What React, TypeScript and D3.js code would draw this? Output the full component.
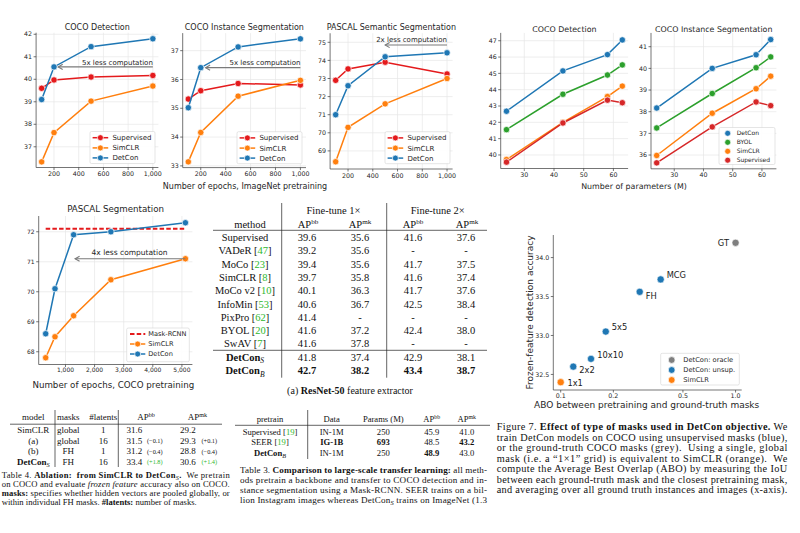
import React from "react";
import * as d3 from "d3";

const SANS = "'DejaVu Sans', sans-serif";
const SERIF = "'Liberation Serif', 'Times New Roman', serif";

const COL = {
  sup: "#e41a1c",
  sim: "#ff7f0e",
  det: "#1f77b4",
  byol: "#2ca02c",
  supTab: "#d62728",
  grey: "#7f7f7f",
  ref: "#2db82d",
  txt: "#262626",
};

// ---------------- data: ImageNet pretraining epochs ----------------
const inEpochs = [100, 200, 500, 1000];
const detSupervised = [39.6, 39.97, 40.1, 40.17];
const detSimCLR = [36.33, 37.63, 39.03, 39.7];
const detDetCon = [39.1, 40.55, 41.45, 41.8];
const insSupervised = [35.32, 35.61, 35.86, 35.81];
const insSimCLR = [33.14, 34.16, 35.42, 35.97];
const insDetCon = [35.02, 36.41, 37.13, 37.41];
const semSupervised = [72.9, 73.53, 73.9, 73.25];
const semSimCLR = [68.4, 70.3, 71.6, 73.0];
const semDetCon = [71.0, 72.6, 74.2, 74.42];

// ---------------- data: model size ----------------
const params = [24, 43, 58, 63];
const pDetDetCon = [42.68, 45.15, 46.15, 47.05];
const pDetBYOL = [41.55, 43.72, 44.9, 45.52];
const pDetSimCLR = [39.72, 42.0, 43.58, 44.22];
const pDetSupervised = [39.56, 41.96, 43.36, 43.2];
const pInsDetCon = [38.17, 40.0, 40.63, 41.33];
const pInsBYOL = [37.25, 38.84, 40.03, 40.53];
const pInsSimCLR = [35.98, 37.93, 39.06, 39.64];
const pInsSupervised = [35.64, 37.3, 38.45, 38.28];

// ---------------- data: COCO pretraining ----------------
const cocoEpochs = [320, 640, 1280, 2560, 5120];
const pascalSimCLR = [67.8, 68.5, 69.2, 70.4, 71.1];
const pascalDetCon = [68.6, 70.1, 71.9, 72.0, 72.3];
const maskRCNN = 72.1;

// ---------------- data: Figure 7 ----------------
const aboNames = ["GT", "MCG", "FH", "5x5", "10x10", "2x2", "1x1"];
const aboX = [1.0, 0.373, 0.283, 0.181, 0.149, 0.118, 0.1];
const aboY = [34.19, 33.72, 33.56, 33.05, 32.7, 32.6, 32.4];
const aboGroup = [0, 1, 1, 1, 1, 1, 2];
const aboGroupNames = ["DetCon: oracle", "DetCon: unsup.", "SimCLR"];
// label placement (style): dx, dy in px, anchor
const aboLabelPos: [number, number, string][] = [
  [-6.5, 3, "end"], [6, -1.3, "start"], [6, 7.3, "start"], [6, -1.7, "start"],
  [6.3, -1, "start"], [6, 6.6, "start"], [6.7, 3.4, "start"],
];

// ---------------- data: table (a) ----------------
const methods = ["Supervised", "VADeR", "MoCo", "SimCLR", "MoCo v2", "InfoMin", "PixPro", "BYOL", "SwAV"];
const methodRefs = ["", "47", "23", "8", "10", "53", "62", "20", "7"];
const ft1bb = ["39.6", "39.2", "39.4", "39.7", "40.1", "40.6", "41.4", "41.6", "41.6"];
const ft1mk = ["35.6", "35.6", "35.6", "35.8", "36.3", "36.7", "-", "37.2", "37.8"];
const ft2bb = ["41.6", "-", "41.7", "41.6", "41.7", "42.5", "-", "42.4", "-"];
const ft2mk = ["37.6", "-", "37.5", "37.4", "37.6", "38.4", "-", "38.0", "-"];
const detconSubs = ["S", "B"];
const detconFt1bb = ["41.8", "42.7"];
const detconFt1mk = ["37.4", "38.2"];
const detconFt2bb = ["42.9", "43.4"];
const detconFt2mk = ["38.1", "38.7"];

// ---------------- data: table 4 ----------------
const abModels = ["SimCLR", "(a)", "(b)", "DetCon"];
const abMasks = ["global", "global", "FH", "FH"];
const abLatents = ["1", "16", "1", "16"];
const abBB = ["31.6", "31.5", "31.2", "33.4"];
const abBBd = ["", "(\u22120.1)", "(\u22120.4)", "(+1.8)"];
const abMK = ["29.2", "29.3", "28.8", "30.6"];
const abMKd = ["", "(+0.1)", "(\u22120.4)", "(+1.4)"];

// ---------------- data: table 3 ----------------
const lsPretrain = ["Supervised", "SEER", "DetCon"];
const lsRefs = ["19", "19", ""];
const lsData = ["IN-1M", "IG-1B", "IN-1M"];
const lsParams = ["250", "693", "250"];
const lsBB = ["45.9", "48.5", "48.9"];
const lsMK = ["41.0", "43.2", "43.0"];

type Seg = { t: string; b?: boolean; i?: boolean; sub?: boolean; c?: string };

const fig7Caption: Seg[][] = [
  [{ t: "Figure 7. " }, { t: "Effect of type of masks used in DetCon objective.", b: true }, { t: " We" }],
  [{ t: "train DetCon models on COCO using unsupervised masks (blue)," }],
  [{ t: "or the ground-truth COCO masks (grey).  Using a single, global" }],
  [{ t: "mask (i.e. a \u201c1\u00d71\u201d grid) is equivalent to SimCLR (orange).  We" }],
  [{ t: "compute the Average Best Overlap (ABO) by measuring the IoU" }],
  [{ t: "between each ground-truth mask and the closest pretraining mask," }],
  [{ t: "and averaging over all ground truth instances and images (x-axis)." }],
];
const tab3Caption: Seg[][] = [
  [{ t: "Table 3. " }, { t: "Comparison to large-scale transfer learning:", b: true }, { t: " all meth-" }],
  [{ t: "ods pretrain a backbone and transfer to COCO detection and in-" }],
  [{ t: "stance segmentation using a Mask-RCNN. SEER trains on a bil-" }],
  [{ t: "lion Instagram images whereas DetCon" }, { t: "S", sub: true, i: true }, { t: " trains on ImageNet (1.3" }],
];
const tab4Caption: Seg[][] = [
  [{ t: "Table 4. " }, { t: "Ablation:  from SimCLR to DetCon", b: true }, { t: "S", sub: true, i: true }, { t: ".", b: true }, { t: "  We pretrain" }],
  [{ t: "on COCO and evaluate " }, { t: "frozen feature", i: true }, { t: " accuracy also on COCO." }],
  [{ t: "masks:", b: true }, { t: " specifies whether hidden vectors are pooled globally, or" }],
  [{ t: "within individual FH masks. " }, { t: "#latents:", b: true }, { t: " number of masks." }],
];

// ---------------- chart machinery ----------------
type Series = { name: string; color: string; xs: number[]; ys: number[] };
type Ann = { text: string; from: number; to: number; y: number; tx: number; ty: number; anchor: string; fs: number };
type LegendItem = { name: string; color: string; kind: string };
type LegendCfg = { x: number; y: number; w: number; h: number; rows: number[]; items: LegendItem[]; fs: number; hx0: number; hx1: number; tx: number; r: number };
type ChartCfg = {
  xr: [number, number]; yr: [number, number]; xd: [number, number]; yd: [number, number];
  xTicks: number[]; yTicks: number[]; xFmt: (v: number) => string; yFmt: (v: number) => string;
  log?: boolean; grid?: boolean; tickFs: number; xTickDy: number;
  title?: string; titleFs?: number; titleY?: number;
  series?: Series[]; r?: number;
  refLine?: { y: number; x0: number; x1: number; color: string };
  ann?: Ann; legend?: LegendCfg;
};

const fmtComma = d3.format(",");
const fmtInt = d3.format("d");
const fmt1 = d3.format(".1f");

function Legend({ l }: { l: LegendCfg }) {
  return (
    <g>
      <rect x={l.x} y={l.y} width={l.w} height={l.h} rx={1.5} fill="white" fillOpacity={0.9} stroke="#d4d4d4" strokeWidth={0.6} />
      {l.items.map((it, i) => {
        const cy = l.rows[i];
        const mx = (l.x + l.hx0 + l.x + l.hx1) / 2;
        return (
          <g key={i}>
            {it.kind === "line" && (
              <line x1={l.x + l.hx0} x2={l.x + l.hx1} y1={cy} y2={cy} stroke={it.color} strokeWidth={1.5} />
            )}
            {it.kind === "dash" && (
              <line x1={l.x + l.hx0} x2={l.x + l.hx1} y1={cy} y2={cy} stroke={it.color} strokeWidth={1.8} strokeDasharray="4.5 2.2" />
            )}
            {it.kind !== "dash" && (
              <circle cx={mx} cy={cy} r={l.r} fill={it.color} stroke="white" strokeWidth={0.7} />
            )}
            <text x={l.x + l.tx} y={cy} dy="0.35em" fontSize={l.fs} fill={COL.txt} fontFamily={SANS}>
              {it.name}
            </text>
          </g>
        );
      })}
    </g>
  );
}

function Chart({ c, extra }: { c: ChartCfg; extra?: (x: any, y: any) => React.ReactNode }) {
  const x: any = c.log ? d3.scaleLog().domain(c.xd).range(c.xr) : d3.scaleLinear().domain(c.xd).range(c.xr);
  const y = d3.scaleLinear().domain(c.yd).range(c.yr);
  const [xl, xrt] = c.xr;
  const [yb, yt] = c.yr;
  const line = d3.line<[number, number]>().x((d) => x(d[0])).y((d) => y(d[1]));
  const r = c.r ?? 3.2;
  const a = c.ann;
  return (
    <g fontFamily={SANS}>
      {c.grid !== false && (
        <g stroke="#e6e6e6" strokeWidth={0.7}>
          {c.xTicks.map((t) => (
            <line key={"gx" + t} x1={x(t)} x2={x(t)} y1={yb} y2={yt} />
          ))}
          {c.yTicks.map((t) => (
            <line key={"gy" + t} x1={xl} x2={xrt} y1={y(t)} y2={y(t)} />
          ))}
        </g>
      )}
      {c.refLine && (
        <line x1={x(c.refLine.x0)} x2={x(c.refLine.x1)} y1={y(c.refLine.y)} y2={y(c.refLine.y)} stroke={c.refLine.color} strokeWidth={1.8} strokeDasharray="4.5 2.2" />
      )}
      {(c.series || []).map((s) => {
        const pts = s.xs.map((v, i) => [v, s.ys[i]] as [number, number]);
        return (
          <g key={s.name}>
            <path d={line(pts) || ""} fill="none" stroke={s.color} strokeWidth={1.5} />
            {pts.map((p, i) => (
              <circle key={i} cx={x(p[0])} cy={y(p[1])} r={r} fill={s.color} stroke="white" strokeWidth={0.7} />
            ))}
          </g>
        );
      })}
      {a && (
        <g>
          <line x1={x(a.from)} x2={x(a.to)} y1={y(a.y)} y2={y(a.y)} stroke="#7a7a7a" strokeWidth={1.1} />
          <path
            d={`M${x(a.to) + 4.5},${y(a.y) - 2.6}L${x(a.to)},${y(a.y)}L${x(a.to) + 4.5},${y(a.y) + 2.6}`}
            fill="none"
            stroke="#7a7a7a"
            strokeWidth={1.1}
          />
          <text x={x(a.tx)} y={y(a.ty)} textAnchor={a.anchor as any} fontSize={a.fs} fill={COL.txt}>
            {a.text}
          </text>
        </g>
      )}
      <g stroke="#3a3a3a" strokeWidth={0.7}>
        <line x1={xl} x2={xl} y1={yb} y2={yt} />
        <line x1={xl} x2={xrt} y1={yb} y2={yb} />
        {c.xTicks.map((t) => (
          <line key={"tx" + t} x1={x(t)} x2={x(t)} y1={yb} y2={yb + 2.5} />
        ))}
        {c.yTicks.map((t) => (
          <line key={"ty" + t} x1={xl - 2.5} x2={xl} y1={y(t)} y2={y(t)} />
        ))}
      </g>
      <g fontSize={c.tickFs} fill={COL.txt}>
        {c.xTicks.map((t) => (
          <text key={"lx" + t} x={x(t)} y={yb + c.xTickDy} textAnchor="middle">
            {c.xFmt(t)}
          </text>
        ))}
        {c.yTicks.map((t) => (
          <text key={"ly" + t} x={xl - 4} y={y(t)} dy="0.35em" textAnchor="end">
            {c.yFmt(t)}
          </text>
        ))}
      </g>
      {c.title && (
        <text x={(xl + xrt) / 2} y={c.titleY} textAnchor="middle" fontSize={c.titleFs} fill={COL.txt}>
          {c.title}
        </text>
      )}
      {extra && extra(x, y)}
      {c.legend && <Legend l={c.legend} />}
    </g>
  );
}

function Para({ x, y0, lh, fs, width, lines, justifyLast }: { x: number; y0: number; lh: number; fs: number; width: number; lines: Seg[][]; justifyLast: boolean }) {
  return (
    <g fontFamily={SERIF} fontSize={fs} fill="#111">
      {lines.map((ln, k) => {
        const just = k < lines.length - 1 || justifyLast;
        let inSub = false;
        return (
          <text key={k} x={x} y={y0 + k * lh} textLength={just ? width : undefined} lengthAdjust="spacing" style={{ whiteSpace: "pre" }}>
            {ln.map((s, j) => {
              let dy: number | undefined = undefined;
              if (s.sub && !inSub) dy = fs * 0.22;
              if (!s.sub && inSub) dy = -fs * 0.22;
              inSub = !!s.sub;
              return (
                <tspan key={j} dy={dy} fontWeight={s.b ? "bold" : undefined} fontStyle={s.i ? "italic" : undefined} fontSize={s.sub ? fs * 0.72 : undefined} fill={s.c}>
                  {s.t}
                </tspan>
              );
            })}
          </text>
        );
      })}
    </g>
  );
}

function AP({ sup, fs }: { sup: string; fs: number }) {
  return (
    <>
      AP
      <tspan dy={-fs * 0.33} fontSize={fs * 0.68}>
        {sup}
      </tspan>
    </>
  );
}

// ---------------- chart configs ----------------
const legend3 = (x: number, y: number, fs: number): LegendCfg => ({
  x, y, w: 65, h: 32, rows: [y + 6.2, y + 16.4, y + 26.4], fs, hx0: 2.6, hx1: 18.2, tx: 22.4, r: 3,
  items: [
    { name: "Supervised", color: COL.sup, kind: "line" },
    { name: "SimCLR", color: COL.sim, kind: "line" },
    { name: "DetCon", color: COL.det, kind: "line" },
  ],
});

const epochSeries = (sup: number[], sim: number[], det: number[]): Series[] => [
  { name: "Supervised", color: COL.sup, xs: inEpochs, ys: sup },
  { name: "SimCLR", color: COL.sim, xs: inEpochs, ys: sim },
  { name: "DetCon", color: COL.det, xs: inEpochs, ys: det },
];

const chart1: ChartCfg = {
  xr: [36.1, 158.4], yr: [167.5, 32.7], xd: [55, 1045], yd: [36.08, 42.07],
  xTicks: [200, 400, 600, 800, 1000], yTicks: [37, 38, 39, 40, 41, 42], xFmt: fmtComma, yFmt: fmtInt,
  tickFs: 6.3, xTickDy: 8.6, title: "COCO Detection", titleFs: 8, titleY: 30,
  series: epochSeries(detSupervised, detSimCLR, detDetCon),
  ann: { text: "5x less computation", from: 1000, to: 234, y: 40.55, tx: 1000, ty: 40.64, anchor: "end", fs: 7 },
  legend: legend3(90, 131.5, 7),
};
const chart2: ChartCfg = {
  xr: [182.7, 306.0], yr: [167.6, 33.1], xd: [55, 1045], yd: [32.94, 37.61],
  xTicks: [200, 400, 600, 800, 1000], yTicks: [33, 34, 35, 36, 37], xFmt: fmtComma, yFmt: fmtInt,
  tickFs: 6.3, xTickDy: 8.6, title: "COCO Instance Segmentation", titleFs: 8, titleY: 30,
  series: epochSeries(insSupervised, insSimCLR, insDetCon),
  ann: { text: "5x less computation", from: 1000, to: 239, y: 36.41, tx: 1000, ty: 36.5, anchor: "end", fs: 7 },
  legend: legend3(237, 131.7, 7),
};
const chart3: ChartCfg = {
  xr: [330.1, 452.6], yr: [169, 33.25], xd: [55, 1045], yd: [68.0, 75.5],
  xTicks: [200, 400, 600, 800, 1000], yTicks: [69, 70, 71, 72, 73, 74, 75], xFmt: fmtComma, yFmt: fmtInt,
  tickFs: 6.3, xTickDy: 8.6, title: "PASCAL Semantic Segmentation", titleFs: 8, titleY: 30,
  series: epochSeries(semSupervised, semSimCLR, semDetCon),
  ann: { text: "2x less computation", from: 1000, to: 500, y: 74.85, tx: 1000, ty: 74.99, anchor: "end", fs: 7 },
  legend: legend3(385, 131.7, 7),
};

const paramSeries = (det: number[], byol: number[], sim: number[], sup: number[]): Series[] => [
  { name: "DetCon", color: COL.det, xs: params, ys: det },
  { name: "BYOL", color: COL.byol, xs: params, ys: byol },
  { name: "SimCLR", color: COL.sim, xs: params, ys: sim },
  { name: "Supervised", color: COL.supTab, xs: params, ys: sup },
];

const chart4: ChartCfg = {
  xr: [500.7, 628.1], yr: [168.5, 32.9], xd: [22.05, 64.95], yd: [39.17, 47.48],
  xTicks: [30, 40, 50, 60], yTicks: [40, 41, 42, 43, 44, 45, 46, 47], xFmt: fmtInt, yFmt: fmtInt,
  tickFs: 6.3, xTickDy: 8.2, title: "COCO Detection", titleFs: 7.9, titleY: 32,
  series: paramSeries(pDetDetCon, pDetBYOL, pDetSimCLR, pDetSupervised),
};
const chart5: ChartCfg = {
  xr: [651, 776.4], yr: [168.8, 32.95], xd: [22.05, 64.95], yd: [35.365, 41.635],
  xTicks: [30, 40, 50, 60], yTicks: [36, 37, 38, 39, 40, 41], xFmt: fmtInt, yFmt: fmtInt,
  tickFs: 6.3, xTickDy: 8.2, title: "COCO Instance Segmentation", titleFs: 7.9, titleY: 32,
  series: paramSeries(pInsDetCon, pInsBYOL, pInsSimCLR, pInsSupervised),
  legend: {
    x: 719, y: 127.5, w: 56, h: 37, rows: [133.3, 142.3, 151.3, 160.2], fs: 6, hx0: 4, hx1: 13.4, tx: 17.7, r: 3,
    items: [
      { name: "DetCon", color: COL.det, kind: "marker" },
      { name: "BYOL", color: COL.byol, kind: "marker" },
      { name: "SimCLR", color: COL.sim, kind: "marker" },
      { name: "Supervised", color: COL.supTab, kind: "marker" },
    ],
  },
};

const chart6: ChartCfg = {
  xr: [38.7, 192.4], yr: [364.5, 216], xd: [80, 5360], yd: [67.575, 72.525],
  xTicks: [1000, 2000, 3000, 4000, 5000], yTicks: [68, 69, 70, 71, 72], xFmt: fmtComma, yFmt: fmtInt,
  tickFs: 6, xTickDy: 7.8, title: "PASCAL Segmentation", titleFs: 8.7, titleY: 212,
  refLine: { y: maskRCNN, x0: 320, x1: 5120, color: COL.sup },
  series: [
    { name: "SimCLR", color: COL.sim, xs: cocoEpochs, ys: pascalSimCLR },
    { name: "DetCon", color: COL.det, xs: cocoEpochs, ys: pascalDetCon },
  ],
  ann: { text: "4x less computation", from: 5120, to: 1330, y: 71.1, tx: 3200, ty: 71.22, anchor: "middle", fs: 7.5 },
  legend: {
    x: 126.7, y: 328, w: 62.6, h: 33.7, rows: [334, 344, 354], fs: 6.6, hx0: 3.3, hx1: 18.6, tx: 21.6, r: 3,
    items: [
      { name: "Mask-RCNN", color: COL.sup, kind: "dash" },
      { name: "SimCLR", color: COL.sim, kind: "line" },
      { name: "DetCon", color: COL.det, kind: "line" },
    ],
  },
};

const fig7: ChartCfg = {
  xr: [553.3, 741.7], yr: [390, 235], xd: [0.0907, 1.084], yd: [32.3, 34.29], log: true, grid: false,
  xTicks: [0.1, 0.2, 0.5, 1.0], yTicks: [32.5, 33.0, 33.5, 34.0], xFmt: fmt1, yFmt: fmt1,
  tickFs: 6.3, xTickDy: 8,
  legend: {
    x: 660.7, y: 353.3, w: 78.6, h: 31.7, rows: [360, 370, 380], fs: 6.7, hx0: 6, hx1: 16, tx: 22.6, r: 3.4,
    items: [
      { name: aboGroupNames[0], color: COL.grey, kind: "marker" },
      { name: aboGroupNames[1], color: COL.det, kind: "marker" },
      { name: aboGroupNames[2], color: COL.sim, kind: "marker" },
    ],
  },
};
const groupColors = [COL.grey, COL.det, COL.sim];

// ---------------- tables ----------------
function TableA() {
  const fs = 10.5;
  const cx = [245, 307, 360, 413, 466];
  const rowY = (i: number) => 241 + i * 13.3;
  return (
    <g fontFamily={SERIF} fontSize={fs} fill="#111">
      <line x1={281.7} x2={281.7} y1={203} y2={377.7} stroke="#222" strokeWidth={0.7} />
      <line x1={386.7} x2={386.7} y1={203} y2={377.7} stroke="#222" strokeWidth={0.7} />
      <line x1={213} x2={487} y1={230.3} y2={230.3} stroke="#222" strokeWidth={0.7} />
      <line x1={213} x2={487} y1={350.3} y2={350.3} stroke="#222" strokeWidth={0.7} />
      <text x={333.5} y={213.5} textAnchor="middle">Fine-tune 1×</text>
      <text x={437.7} y={213.5} textAnchor="middle">Fine-tune 2×</text>
      <text x={250} y={227.5} textAnchor="middle">method</text>
      <text x={cx[1] + 1} y={227.8} textAnchor="middle"><AP sup="bb" fs={fs} /></text>
      <text x={cx[2]} y={227.8} textAnchor="middle"><AP sup="mk" fs={fs} /></text>
      <text x={cx[3]} y={227.8} textAnchor="middle"><AP sup="bb" fs={fs} /></text>
      <text x={cx[4] + 1} y={227.8} textAnchor="middle"><AP sup="mk" fs={fs} /></text>
      {methods.map((m, i) => (
        <g key={m}>
          <text x={cx[0]} y={rowY(i)} textAnchor="middle" style={{ whiteSpace: "pre" }}>
            {m}
            {methodRefs[i] && (
              <>
                {" ["}
                <tspan fill={COL.ref}>{methodRefs[i]}</tspan>
                {"]"}
              </>
            )}
          </text>
          <text x={cx[1]} y={rowY(i)} textAnchor="middle">{ft1bb[i]}</text>
          <text x={cx[2]} y={rowY(i)} textAnchor="middle">{ft1mk[i]}</text>
          <text x={cx[3]} y={rowY(i)} textAnchor="middle">{ft2bb[i]}</text>
          <text x={cx[4]} y={rowY(i)} textAnchor="middle">{ft2mk[i]}</text>
        </g>
      ))}
      {detconSubs.map((s, k) => {
        const yy = 361 + k * 13.3;
        const bold = k === 1 ? "bold" : undefined;
        return (
          <g key={s}>
            <text x={cx[0]} y={yy} textAnchor="middle">
              <tspan fontWeight="bold">DetCon</tspan>
              <tspan dy={2.4} fontStyle="italic" fontSize={7.6}>{s}</tspan>
            </text>
            <text x={cx[1]} y={yy} textAnchor="middle" fontWeight={bold}>{detconFt1bb[k]}</text>
            <text x={cx[2]} y={yy} textAnchor="middle" fontWeight={bold}>{detconFt1mk[k]}</text>
            <text x={cx[3]} y={yy} textAnchor="middle" fontWeight={bold}>{detconFt2bb[k]}</text>
            <text x={cx[4]} y={yy} textAnchor="middle" fontWeight={bold}>{detconFt2mk[k]}</text>
          </g>
        );
      })}
      <text x={350} y={393.5} textAnchor="middle" fontSize={10} style={{ whiteSpace: "pre" }}>
        (a) <tspan fontWeight="bold">ResNet-50</tspan> feature extractor
      </text>
    </g>
  );
}

function Table4() {
  const fs = 9;
  const rowY = (i: number) => 433.2 + i * 10.5;
  return (
    <g fontFamily={SERIF} fontSize={fs} fill="#111">
      <line x1={55} x2={55} y1={410} y2={467} stroke="#222" strokeWidth={0.7} />
      <line x1={118.3} x2={118.3} y1={410} y2={467} stroke="#222" strokeWidth={0.7} />
      <line x1={10} x2={222} y1={424.2} y2={424.2} stroke="#222" strokeWidth={0.7} />
      <text x={33.3} y={420.3} textAnchor="middle">model</text>
      <text x={68.3} y={420.3} textAnchor="middle">masks</text>
      <text x={103.3} y={420.3} textAnchor="middle">#latents</text>
      <text x={146} y={420.3} textAnchor="middle"><AP sup="bb" fs={fs} /></text>
      <text x={197.5} y={420.3} textAnchor="middle"><AP sup="mk" fs={fs} /></text>
      {abModels.map((m, i) => {
        const last = i === abModels.length - 1;
        const dcol = last ? COL.ref : "#111";
        return (
          <g key={i}>
            <text x={33.3} y={rowY(i)} textAnchor="middle">
              {last ? (
                <>
                  <tspan fontWeight="bold">{m}</tspan>
                  <tspan dy={2} fontStyle="italic" fontSize={6.5}>S</tspan>
                </>
              ) : (
                m
              )}
            </text>
            <text x={68.3} y={rowY(i)} textAnchor="middle">{abMasks[i]}</text>
            <text x={103.3} y={rowY(i)} textAnchor="middle">{abLatents[i]}</text>
            <text x={126.5} y={rowY(i)}>{abBB[i]}</text>
            <text x={147} y={rowY(i) - 0.5} fontSize={6.3} fill={dcol}>{abBBd[i]}</text>
            <text x={180} y={rowY(i)}>{abMK[i]}</text>
            <text x={201.5} y={rowY(i) - 0.5} fontSize={6.3} fill={dcol}>{abMKd[i]}</text>
          </g>
        );
      })}
    </g>
  );
}

function Table3() {
  const fs = 8.6;
  const rowY = (i: number) => 434.6 + i * 10.8;
  const cx = [270, 331.7, 383.3, 431.7, 466.7];
  return (
    <g fontFamily={SERIF} fontSize={fs} fill="#111">
      <line x1={307.7} x2={307.7} y1={410} y2={459} stroke="#222" strokeWidth={0.7} />
      <line x1={235} x2={490} y1={425.3} y2={425.3} stroke="#222" strokeWidth={0.7} />
      <text x={cx[0]} y={422.2} textAnchor="middle">pretrain</text>
      <text x={cx[1]} y={422.2} textAnchor="middle">Data</text>
      <text x={cx[2]} y={422.2} textAnchor="middle">Params (M)</text>
      <text x={cx[3]} y={422.2} textAnchor="middle"><AP sup="bb" fs={fs} /></text>
      <text x={cx[4]} y={422.2} textAnchor="middle"><AP sup="mk" fs={fs} /></text>
      {lsPretrain.map((p, i) => {
        const seer = i === 1;
        const dc = i === 2;
        return (
          <g key={i}>
            <text x={cx[0]} y={rowY(i)} textAnchor="middle" style={{ whiteSpace: "pre" }}>
              {dc ? (
                <>
                  <tspan fontWeight="bold">{p}</tspan>
                  <tspan dy={2} fontStyle="italic" fontSize={6.2}>B</tspan>
                </>
              ) : (
                <>
                  {p}
                  {" ["}
                  <tspan fill={COL.ref}>{lsRefs[i]}</tspan>
                  {"]"}
                </>
              )}
            </text>
            <text x={cx[1]} y={rowY(i)} textAnchor="middle" fontWeight={seer ? "bold" : undefined}>{lsData[i]}</text>
            <text x={cx[2]} y={rowY(i)} textAnchor="middle" fontWeight={seer ? "bold" : undefined}>{lsParams[i]}</text>
            <text x={cx[3]} y={rowY(i)} textAnchor="middle" fontWeight={dc ? "bold" : undefined}>{lsBB[i]}</text>
            <text x={cx[4]} y={rowY(i)} textAnchor="middle" fontWeight={seer ? "bold" : undefined}>{lsMK[i]}</text>
          </g>
        );
      })}
    </g>
  );
}

export default function App() {
  return (
    <div style={{ position: "absolute", left: 0, top: 0 }}>
      <svg width={800} height={533} viewBox="0 0 800 533" style={{ display: "block", background: "white" }}>
        <rect width={800} height={533} fill="white" />
        <Chart c={chart1} />
        <Chart c={chart2} />
        <Chart c={chart3} />
        <text x={245} y={189} textAnchor="middle" fontSize={8} fontFamily={SANS} fill={COL.txt}>
          Number of epochs, ImageNet pretraining
        </text>
        <Chart c={chart4} />
        <Chart c={chart5} />
        <text x={634} y={189} textAnchor="middle" fontSize={7.9} fontFamily={SANS} fill={COL.txt}>
          Number of parameters (M)
        </text>
        <Chart c={chart6} />
        <text x={113.3} y={387.5} textAnchor="middle" fontSize={8.7} fontFamily={SANS} fill={COL.txt}>
          Number of epochs, COCO pretraining
        </text>
        <Chart
          c={fig7}
          extra={(x, y) => (
            <g>
              {aboNames.map((n, i) => (
                <circle key={n} cx={x(aboX[i])} cy={y(aboY[i])} r={3.6} fill={groupColors[aboGroup[i]]} stroke="white" strokeWidth={0.6} />
              ))}
              {aboNames.map((n, i) => (
                <text key={"t" + n} x={x(aboX[i]) + aboLabelPos[i][0]} y={y(aboY[i]) + aboLabelPos[i][1]} textAnchor={aboLabelPos[i][2] as any} fontSize={8.3} fill="#1a1a1a">
                  {n}
                </text>
              ))}
            </g>
          )}
        />
        <text x={646.7} y={408.3} textAnchor="middle" fontSize={9} fontFamily={SANS} fill={COL.txt}>
          ABO between pretraining and ground-truth masks
        </text>
        <text transform="translate(532.5,312.5) rotate(-90)" textAnchor="middle" fontSize={9} fontFamily={SANS} fill={COL.txt}>
          Frozen-feature detection accuracy
        </text>
        <TableA />
        <Table4 />
        <Table3 />
        <Para x={496.7} y0={430} lh={10.5} fs={10.3} width={290.6} lines={fig7Caption} justifyLast={true} />
        <Para x={240} y0={473} lh={10} fs={9.1} width={247} lines={tab3Caption} justifyLast={true} />
        <Para x={1.7} y0={478} lh={9} fs={8.6} width={228} lines={tab4Caption} justifyLast={false} />
      </svg>
    </div>
  );
}
